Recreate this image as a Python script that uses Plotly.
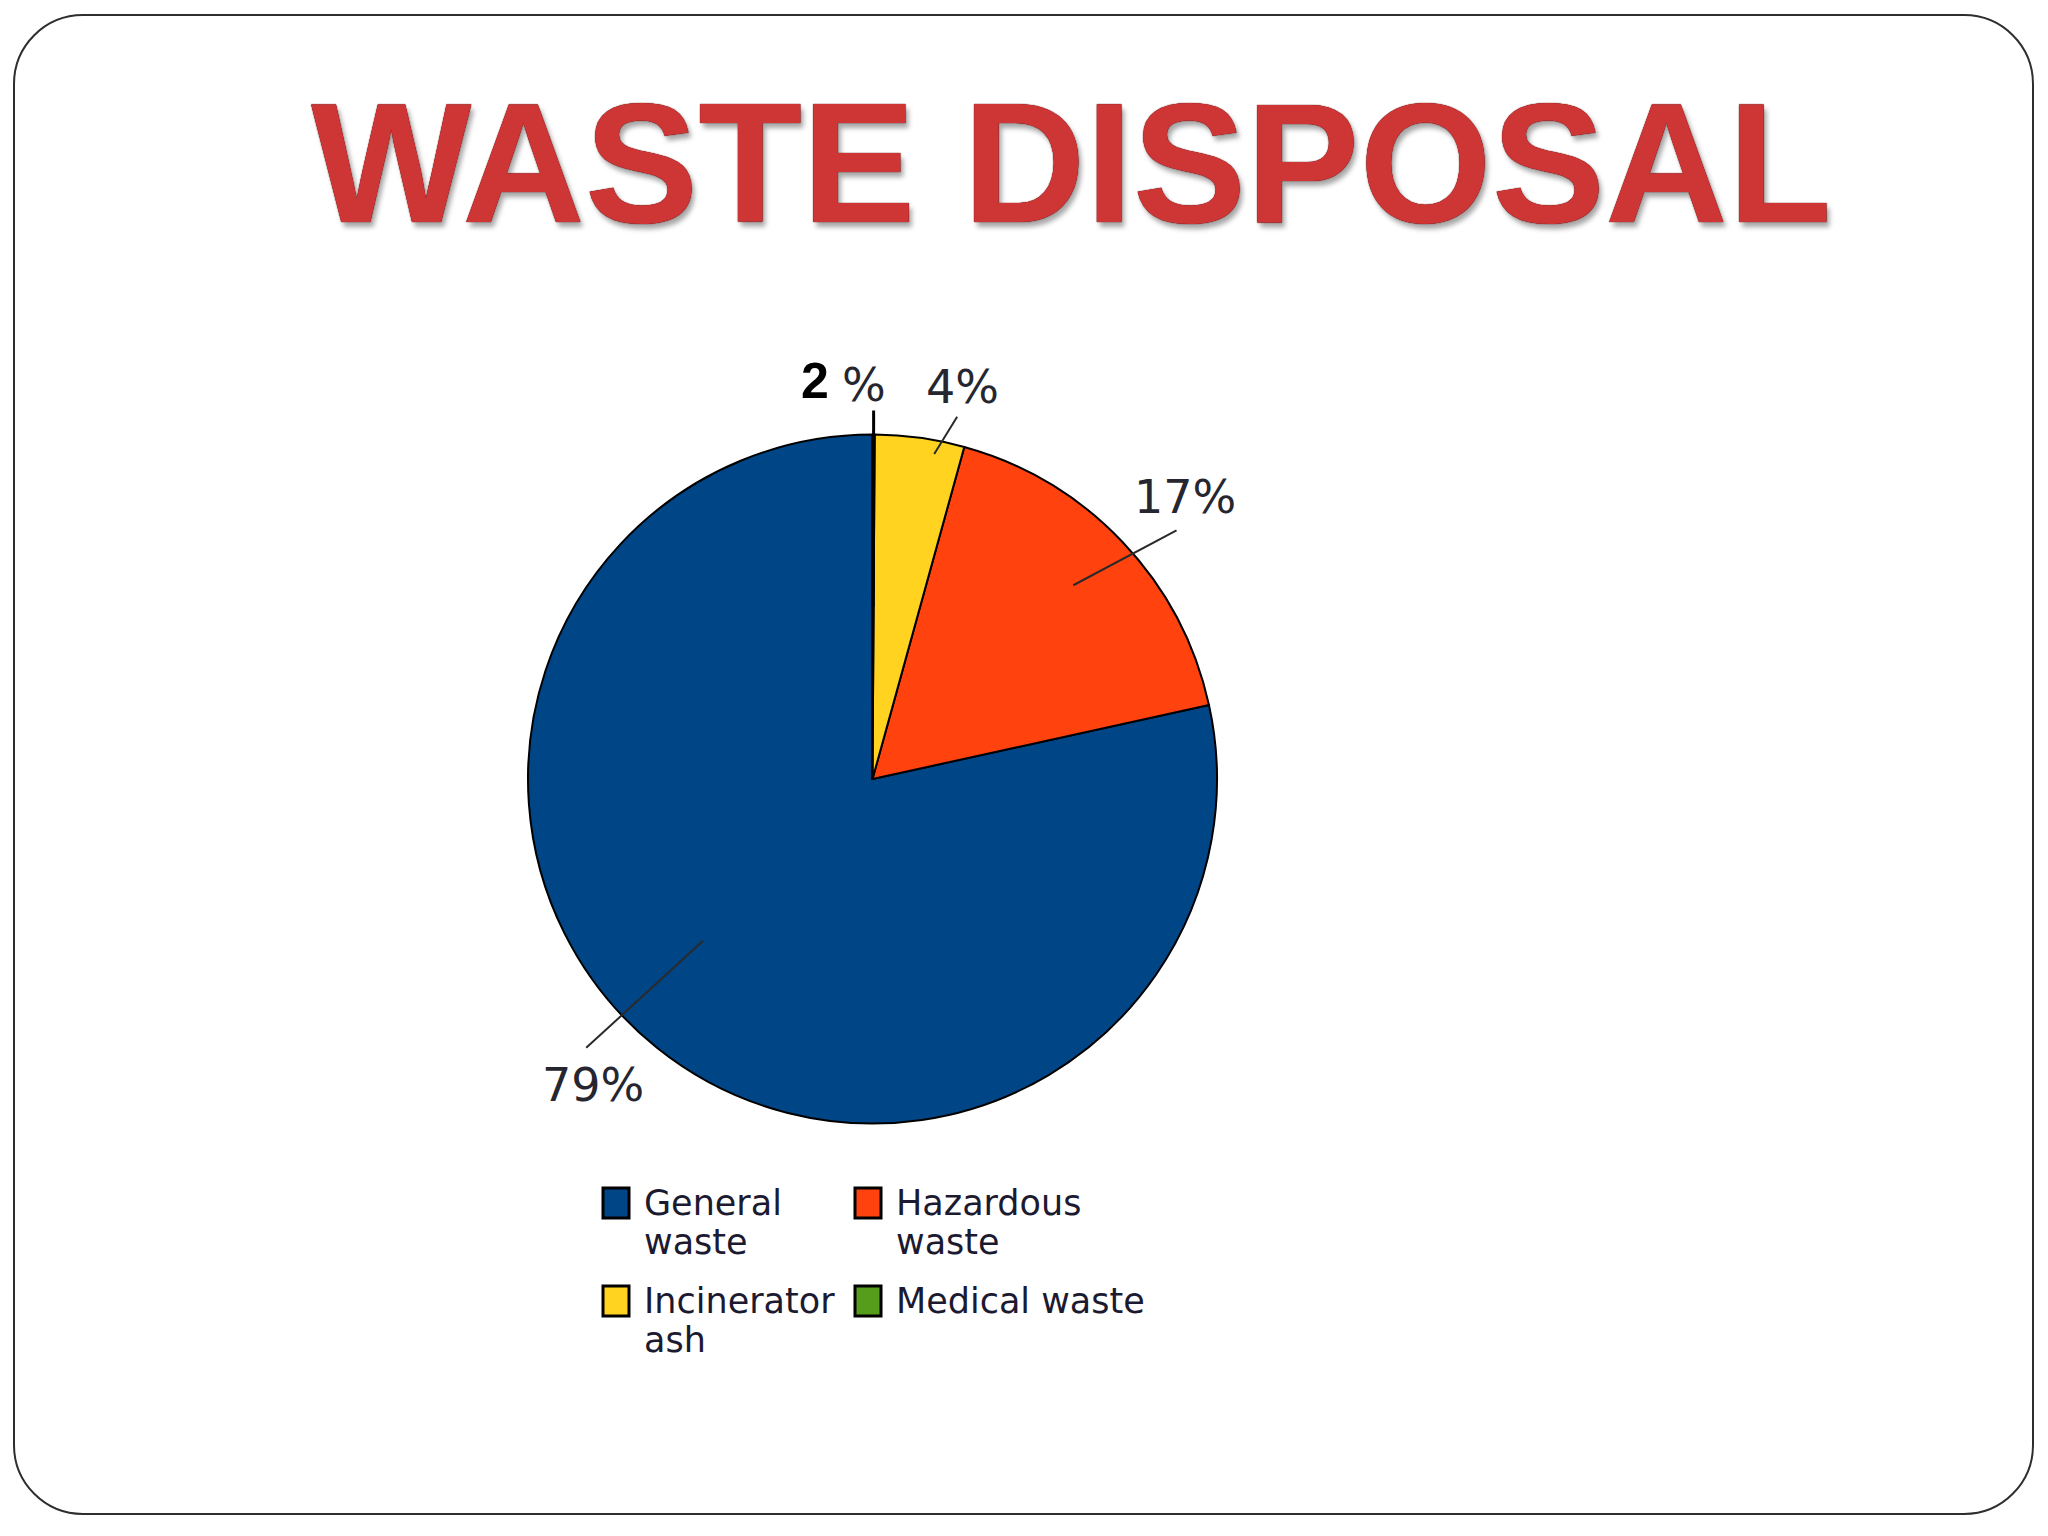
import math
import plotly.graph_objects as go

# ---------------- data ----------------
categories = ["General waste", "Hazardous waste", "Incinerator ash", "Medical waste"]
values = [78.6, 17.3, 4.2, 0.1]
pct_labels = ["79%", "17%", "4%", "%"]
legend_lines = [["General", "waste"], ["Hazardous", "waste"], ["Incinerator", "ash"], ["Medical waste"]]
colors = ["#004586", "#FF420E", "#FFD320", "#579D1C"]
title_text = "WASTE DISPOSAL"

# ---------------- layout constants (pixels) ----------------
W, H = 2048, 1536
CX, CY, R = 872.5, 779.0, 344.5

total = sum(values)
# counterclockwise: first slice lies clockwise of the rotation angle;
# rotate so the last (tiny) slice sits at 12 o'clock
rotation = 360.0 * (1 - values[0] / total)

fig = go.Figure()

fig.add_trace(go.Pie(
    labels=categories,
    values=values,
    marker=dict(colors=colors, line=dict(color="#000000", width=2)),
    sort=False,
    direction="counterclockwise",
    rotation=rotation,
    textinfo="none",
    hoverinfo="label+percent",
    showlegend=False,
    domain=dict(x=[(CX - R) / W, (CX + R) / W], y=[1 - (CY + R) / H, 1 - (CY - R) / H]),
))

# invisible pixel axes for decorations
fig.add_trace(go.Scatter(x=[0, W], y=[0, H], mode="markers", marker=dict(opacity=0),
                         showlegend=False, hoverinfo="skip"))

shapes = []
annotations = []

# rounded slide border
L, T, Rt, B, rad = 14, 15, 2033, 1514, 69
k = 0.5523 * rad
path = (f"M {L+rad},{T} L {Rt-rad},{T} C {Rt-rad+k},{T} {Rt},{T+rad-k} {Rt},{T+rad} "
        f"L {Rt},{B-rad} C {Rt},{B-rad+k} {Rt-rad+k},{B} {Rt-rad},{B} "
        f"L {L+rad},{B} C {L+rad-k},{B} {L},{B-rad+k} {L},{B-rad} "
        f"L {L},{T+rad} C {L},{T+rad-k} {L+rad-k},{T} {L+rad},{T} Z")
shapes.append(dict(type="path", path=path, xref="x", yref="y",
                   line=dict(color="#2e2e2e", width=2), layer="below"))

# leader lines computed from slice mid angles (clockwise from 12 o'clock)
leader_style = [  # (angle offset in, angle offset out, r_in, r_out, color, width)
    (7.5, 8.0, 0.68, 1.14, "#2a2a2a", 2),
    (-0.5, 4.2, 0.81, 1.14, "#2a2a2a", 2),
    (2.85, 5.25, 0.96, 1.08, "#2a2a2a", 2),
    (0.0, 0.0, 0.50, 1.07, "#000000", 3),
]
label_pos = [(593, 1085), (1185, 497), (962, 387), (864, 385)]
mid_angles = []
cur = rotation
for i, v in enumerate(values):
    span = v / total * 360
    if i == 0:
        mid = rotation + span / 2
    else:
        mid = cur - span / 2
        cur = cur - span
    mid_angles.append(mid % 360)

for i, a in enumerate(mid_angles):
    ai, ao, ri, ro, col, wd = leader_style[i]
    a1, a2 = math.radians(a + ai), math.radians(a + ao)
    x1, y1 = CX + ri * R * math.sin(a1), CY - ri * R * math.cos(a1)
    x2, y2 = CX + ro * R * math.sin(a2), CY - ro * R * math.cos(a2)
    shapes.append(dict(type="line", xref="x", yref="y", x0=x1, y0=y1, x1=x2, y1=y2,
                       line=dict(color=col, width=wd)))
    lx, ly = label_pos[i]
    annotations.append(dict(x=lx, y=ly, xref="x", yref="y", text=pct_labels[i], showarrow=False,
                            xanchor="center", yanchor="middle",
                            font=dict(family="DejaVu Sans", size=46, color="#262630")))

# overtyped "2" on the medical waste label
annotations.append(dict(x=815, y=381, xref="x", yref="y", text="<b>2</b>", showarrow=False,
                        xanchor="center", yanchor="middle",
                        font=dict(family="Liberation Sans", size=50, color="#000000")))

# legend (2 columns)
leg_x = [603, 855]
leg_y = [1188, 1286]
line_gap = 39
for i, (lines, col) in enumerate(zip(legend_lines, colors)):
    sx = leg_x[i % 2]
    sy = leg_y[i // 2]
    shapes.append(dict(type="rect", xref="x", yref="y", x0=sx, y0=sy, x1=sx + 26, y1=sy + 30,
                       fillcolor=col, line=dict(color="#000000", width=3)))
    for j, ln in enumerate(lines):
        annotations.append(dict(x=sx + 39, y=sy + 15 + j * line_gap, xref="x", yref="y", text=ln,
                                showarrow=False, xanchor="left", yanchor="middle", align="left",
                                font=dict(family="DejaVu Sans", size=35, color="#1c1a30")))

# title
annotations.append(dict(x=1071, y=163, xref="x", yref="y", text=f"<b>{title_text}</b>",
                        showarrow=False, xanchor="center", yanchor="middle",
                        font=dict(family="Liberation Sans", size=170, color="#CE3636",
                                  shadow="0px 0px 1px #6e1010, 0px 0px 1px #6e1010, 3px 5px 5px rgba(0,0,0,0.35)")))

fig.update_layout(
    width=W, height=H,
    margin=dict(l=0, r=0, t=0, b=0),
    paper_bgcolor="#ffffff",
    plot_bgcolor="rgba(0,0,0,0)",
    xaxis=dict(range=[0, W], visible=False, fixedrange=True, domain=[0, 1]),
    yaxis=dict(range=[H, 0], visible=False, fixedrange=True, domain=[0, 1]),
    shapes=shapes,
    annotations=annotations,
    showlegend=False,
)

fig.write_html("out.html", config={"displayModeBar": False},
               post_script="document.body.style.margin='0';document.body.style.overflow='hidden';")
